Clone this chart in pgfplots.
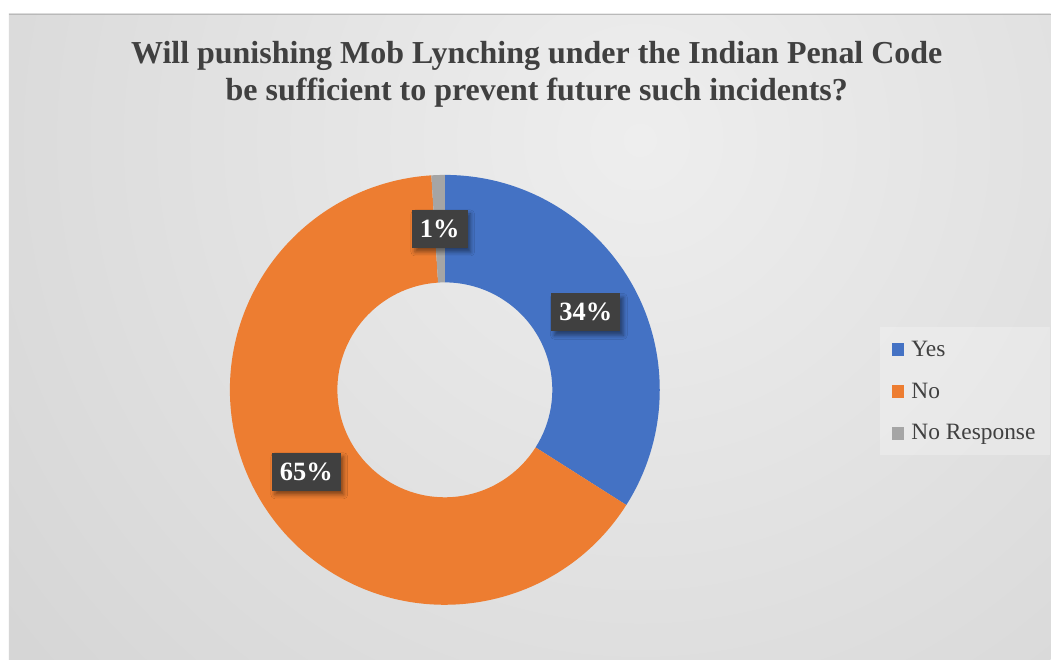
\documentclass[border=0pt]{standalone}
\usepackage{pgfplots}
\pgfplotsset{compat=1.18}
\usepackage{pgfplotstable}
\usepackage{fontspec}
\setmainfont{Liberation Serif}
\usetikzlibrary{shadows.blur}
\definecolor{yesblue}{HTML}{4472C4}
\definecolor{noorange}{HTML}{ED7D31}
\definecolor{nrgray}{HTML}{A5A5A5}
\definecolor{lblgray}{HTML}{404040}
\definecolor{txtgray}{HTML}{404040}
\definecolor{bginner}{HTML}{EEEEEE}
\definecolor{bgouter}{HTML}{C4C4C4}

\pgfplotstableread{
label value
Yes 34
No 65
NoResponse 1
}\piedata

\begin{document}
\begin{tikzpicture}
\pgfplotstablegetelem{0}{value}\of\piedata \pgfmathsetmacro\va{\pgfplotsretval}
\pgfplotstablegetelem{1}{value}\of\piedata \pgfmathsetmacro\vb{\pgfplotsretval}
\pgfplotstablegetelem{2}{value}\of\piedata \pgfmathsetmacro\vc{\pgfplotsretval}
\pgfmathsetmacro\tot{\va+\vb+\vc}
\pgfmathsetmacro\aA{90}
\pgfmathsetmacro\aB{\aA-360*(\va/\tot)}
\pgfmathsetmacro\aC{\aB-360*(\vb/\tot)}
\pgfmathsetmacro\aD{\aC-360*(\vc/\tot)}
\pgfmathsetmacro\mA{(\aA+\aB)/2}
\pgfmathsetmacro\mB{(\aB+\aC)/2}
\pgfmathsetmacro\mC{(\aC+\aD)/2}
\pgfmathtruncatemacro\pA{round(100*(\va/\tot))}
\pgfmathtruncatemacro\pB{round(100*(\vb/\tot))}
\pgfmathtruncatemacro\pC{round(100*(\vc/\tot))}
\def\Ro{215bp}
\def\Ri{107.5bp}
\def\Rm{161bp}
\newcommand\sector[3]{%
  \fill[#3] ([shift={(#1:\Ro)}]axis cs:445,270) arc[start angle=#1,end angle=#2,radius=\Ro]
    -- ([shift={(#2:\Ri)}]axis cs:445,270) arc[start angle=#2,end angle=#1,radius=\Ri] -- cycle;}
\tikzset{lbl/.style={fill=lblgray, text=white, font=\bfseries\fontsize{26.5}{30}\selectfont,
  inner xsep=8bp, inner ysep=0bp, minimum height=38bp,
  blur shadow={shadow xshift=3bp, shadow yshift=-4bp, shadow blur radius=4bp, shadow opacity=45}}}
\begin{axis}[
  width=1051bp, height=660bp, scale only axis,
  xmin=0, xmax=1051, ymin=0, ymax=660,
  hide axis, clip=false,
  legend cell align=left,
  legend image code/.code={\fill[#1,draw=none,fill opacity=1] (0bp,-6.5bp) rectangle (12.5bp,6bp);},
  legend style={at={(axis cs:880,333)}, anchor=north west, draw=none,
    fill=white, fill opacity=0.25, text opacity=1, text=txtgray,
    font=\fontsize{23.5}{28}\selectfont, row sep=21bp,
    inner xsep=12bp, inner ysep=12bp,
    /tikz/every odd column/.append style={column sep=5bp}},
]
% background
\fill[white] (axis cs:0,0) rectangle (axis cs:1051,660);
\begin{scope}
\clip (axis cs:9,0) rectangle (axis cs:1051,646);
\shade[inner color=bginner, outer color=bgouter] (axis cs:640,520) circle (1400bp);
\end{scope}
\draw[gray!55, line width=0.8bp] (axis cs:9,646) -- (axis cs:1051,646);
% legend entries
\addlegendimage{fill=yesblue}
\addlegendimage{fill=noorange}
\addlegendimage{fill=nrgray}
\legend{Yes,No,No Response}
% ring sectors
\sector{\aA}{\aB}{yesblue}
\sector{\aB}{\aC}{noorange}
\sector{\aC}{\aD}{nrgray}
% data labels
\node[lbl] at ([shift={(\mA:\Rm)}]axis cs:445,270) {\pA\%};
\node[lbl] at ([shift={(\mB:\Rm)}]axis cs:445,270) {\pB\%};
\node[lbl] at ([shift={(\mC:\Rm)}]axis cs:445,270) {\pC\%};
% title
\node[anchor=base, text=txtgray, font=\bfseries\fontsize{32.1}{37}\selectfont] at (axis cs:537,596) {Will punishing Mob Lynching under the Indian Penal Code};
\node[anchor=base, text=txtgray, font=\bfseries\fontsize{32.1}{37}\selectfont] at (axis cs:537,559) {be sufficient to prevent future such incidents?};
\end{axis}
\end{tikzpicture}
\end{document}
